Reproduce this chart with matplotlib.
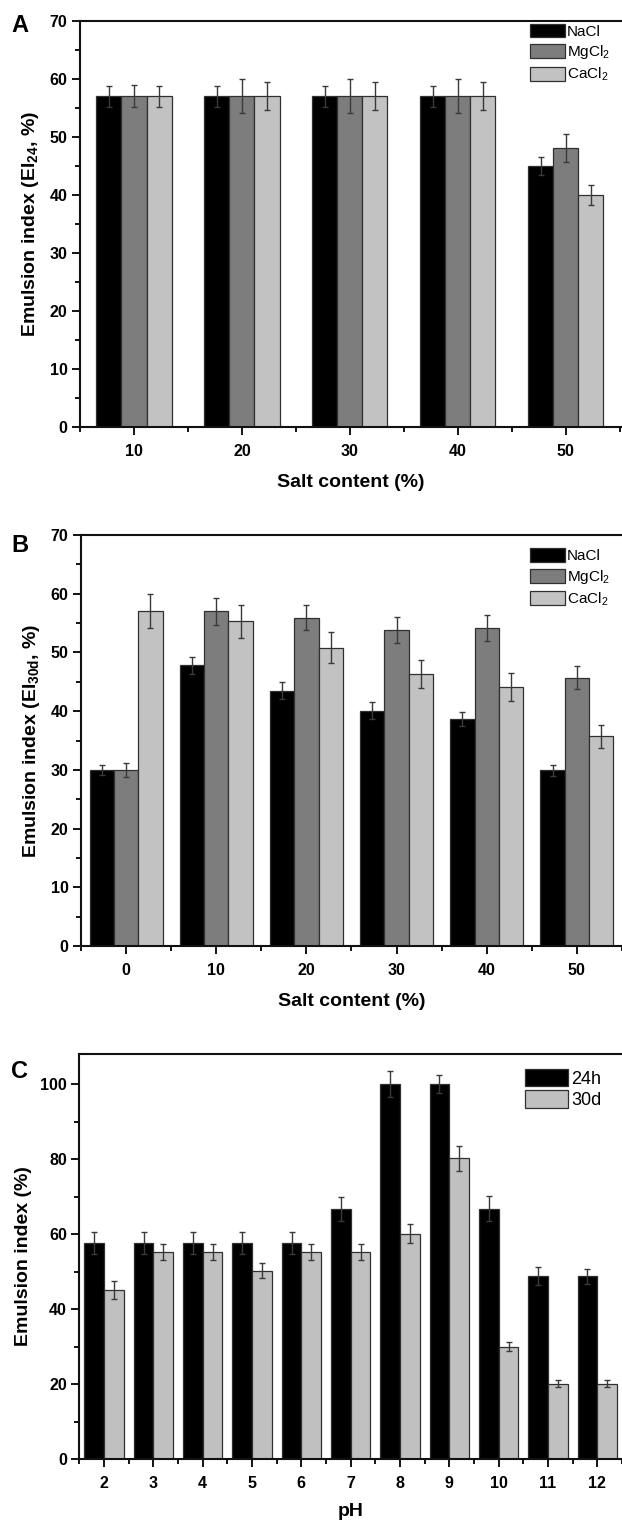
import matplotlib
matplotlib.use("Agg")
import matplotlib.pyplot as plt
from matplotlib.ticker import MultipleLocator
import numpy as np

plt.rcParams['font.family'] = ['Liberation Sans', 'DejaVu Sans']
plt.rcParams['mathtext.default'] = 'regular'

# panel A: EI24 vs salt content
salt_a = [10, 20, 30, 40, 50]
a_nacl = [57, 57, 57, 57, 45]
a_mgcl2 = [57, 57, 57, 57, 48]
a_cacl2 = [57, 57, 57, 57, 40]
a_nacl_err = [1.8, 1.8, 1.8, 1.8, 1.5]
a_mgcl2_err = [1.9, 2.9, 2.9, 2.9, 2.4]
a_cacl2_err = [1.8, 2.4, 2.4, 2.4, 1.7]

# panel B: EI30d vs salt content
salt_b = [0, 10, 20, 30, 40, 50]
b_nacl = [30, 47.8, 43.5, 40.1, 38.6, 29.9]
b_mgcl2 = [30, 57, 55.9, 53.8, 54.1, 45.7]
b_cacl2 = [57, 55.3, 50.8, 46.3, 44.1, 35.7]
b_nacl_err = [0.9, 1.5, 1.4, 1.4, 1.2, 1.0]
b_mgcl2_err = [1.2, 2.3, 2.1, 2.2, 2.2, 2.0]
b_cacl2_err = [2.9, 2.8, 2.6, 2.4, 2.4, 1.9]

# panel C: EI vs pH
ph = [2, 3, 4, 5, 6, 7, 8, 9, 10, 11, 12]
c_24h = [57.7, 57.7, 57.7, 57.7, 57.7, 66.8, 100, 100, 66.8, 48.7, 48.7]
c_24h_err = [2.9, 2.9, 2.9, 2.9, 2.9, 3.2, 3.5, 2.3, 3.4, 2.4, 2.0]
c_30d = [45.1, 55.2, 55.2, 50.2, 55.2, 55.2, 60.1, 80.2, 30.0, 20.1, 20.1]
c_30d_err = [2.5, 2.1, 2.1, 2.0, 2.1, 2.1, 2.6, 3.3, 1.3, 0.9, 0.9]

salts = ['NaCl', 'MgCl$_2$', 'CaCl$_2$']
colors3 = ['#000000', '#7d7d7d', '#c2c2c2']
edge = '#303030'
errc = '#3a3a3a'

W, H = 622, 1523
fig = plt.figure(figsize=(W / 100, H / 100), dpi=100)


def make_ax(left_px, top_px, bottom_px):
    return fig.add_axes([left_px / W, 1 - bottom_px / H, 1.0 - left_px / W, (bottom_px - top_px) / H])


def style(ax, ylabel, xlabel, ymaj, ymin, xlabelpad):
    for s in ['left', 'bottom', 'top']:
        ax.spines[s].set_linewidth(1.5)
        ax.spines[s].set_color('#111111')
    ax.spines['right'].set_visible(False)
    ax.yaxis.set_major_locator(MultipleLocator(ymaj))
    ax.yaxis.set_minor_locator(MultipleLocator(ymin))
    ax.tick_params(which='major', direction='out', length=6, width=1.3, labelsize=11.5, pad=3)
    ax.tick_params(axis='x', which='major', pad=6)
    ax.tick_params(which='minor', direction='out', length=3.5, width=1.3)
    ax.tick_params(right=False, top=False)
    for lab in ax.get_xticklabels() + ax.get_yticklabels():
        lab.set_fontweight('bold')
    ax.set_ylabel(ylabel, fontsize=14, fontweight='bold', labelpad=6)
    ax.set_xlabel(xlabel, fontsize=14, fontweight='bold', labelpad=xlabelpad)


def grouped(ax, xs, series, errs, width, labels, colors):
    n = len(series)
    xs = np.array(xs, dtype=float)
    for i, (vals, err) in enumerate(zip(series, errs)):
        off = (i - (n - 1) / 2) * width
        ax.bar(xs + off, vals, width=width, color=colors[i], edgecolor=edge,
               linewidth=0.9, label=labels[i], zorder=2)
        ax.errorbar(xs + off, vals, yerr=err, fmt='none', ecolor=errc,
                    elinewidth=1, capsize=2.5, capthick=1, zorder=3)


# --- A ---
axA = make_ax(80, 20.7, 427)
grouped(axA, salt_a, [a_nacl, a_mgcl2, a_cacl2],
        [a_nacl_err, a_mgcl2_err, a_cacl2_err], 2.32, salts, colors3)
axA.set_xlim(5, 55.2)
axA.set_ylim(0, 70)
axA.set_xticks(salt_a)
axA.xaxis.set_minor_locator(MultipleLocator(5))
style(axA, 'Emulsion index (EI$_{24}$, %)', 'Salt content (%)', 10, 5, 11)
axA.legend(loc='upper right', bbox_to_anchor=(0.995, 1.015), frameon=False, fontsize=11,
           handlelength=2.3, handleheight=1.0, handletextpad=0.15, labelspacing=0.3,
           borderaxespad=0.2)

# --- B ---
axB = make_ax(81, 535, 946)
grouped(axB, salt_b, [b_nacl, b_mgcl2, b_cacl2],
        [b_nacl_err, b_mgcl2_err, b_cacl2_err], 2.7, salts, colors3)
axB.set_xlim(-5, 55)
axB.set_ylim(0, 70)
axB.set_xticks(salt_b)
axB.xaxis.set_minor_locator(MultipleLocator(5))
style(axB, 'Emulsion index (EI$_{30d}$, %)', 'Salt content (%)', 10, 5, 11)
axB.legend(loc='upper right', bbox_to_anchor=(0.995, 0.99), frameon=False, fontsize=11,
           handlelength=2.3, handleheight=1.0, handletextpad=0.15, labelspacing=0.3,
           borderaxespad=0.2)

# --- C ---
axC = make_ax(79.4, 1054, 1459)
grouped(axC, ph, [c_24h, c_30d], [c_24h_err, c_30d_err], 0.4,
        ['24h', '30d'], ['#000000', '#c0c0c0'])
axC.set_xlim(1.5, 12.5)
axC.set_ylim(0, 108)
axC.set_xticks(ph)
axC.xaxis.set_minor_locator(MultipleLocator(0.5))
style(axC, 'Emulsion index (%)', 'pH', 20, 10, 9)
axC.legend(loc='upper right', bbox_to_anchor=(0.982, 0.99), frameon=False, fontsize=13,
           handlelength=2.4, handleheight=1.1, handletextpad=0.15, labelspacing=0.15,
           borderaxespad=0.2)

# panel letters
for letter, ypx in [('A', 25), ('B', 545), ('C', 1072)]:
    fig.text(20 / W, 1 - ypx / H, letter, fontsize=17, fontweight='bold',
             ha='center', va='center')

fig.savefig('out.png', dpi=100)
